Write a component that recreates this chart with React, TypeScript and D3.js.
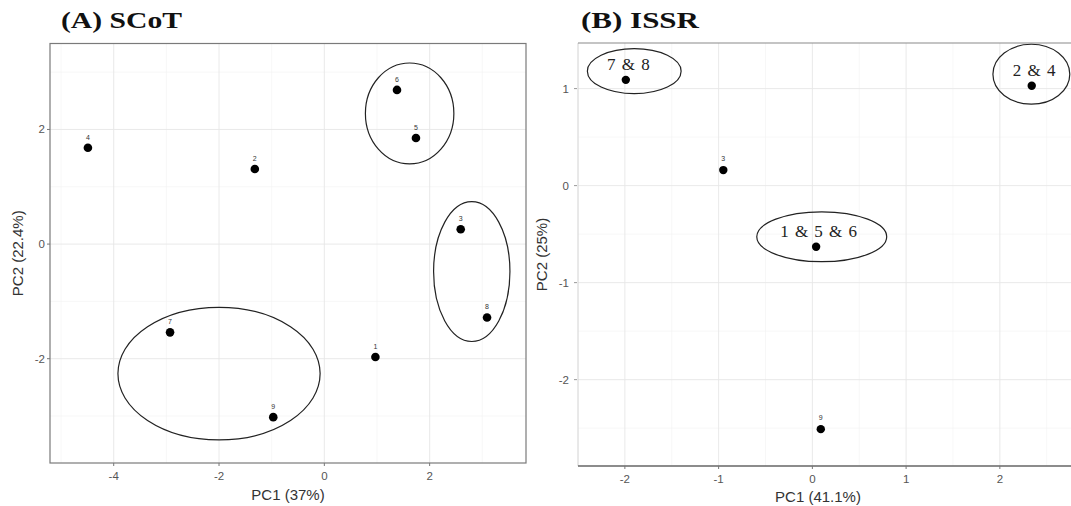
import React from 'react';
import * as d3 from 'd3';

// ---- SCoT data ----
const scotLabels = ['1', '2', '3', '4', '5', '6', '7', '8', '9'];
const scotPC1 = [0.97, -1.32, 2.59, -4.49, 1.74, 1.38, -2.93, 3.09, -0.97];
const scotPC2 = [-1.97, 1.31, 0.26, 1.68, 1.85, 2.69, -1.54, -1.28, -3.02];
const scotEllCx = [1.62, 2.8, -2.0];
const scotEllCy = [2.28, -0.48, -2.26];
const scotEllRx = [0.84, 0.725, 1.92];
const scotEllRy = [0.88, 1.22, 1.157];
const scotXTicks = [-4, -2, 0, 2];
const scotXMinor = [-5, -3, -1, 1, 3];
const scotYTicks = [-2, 0, 2];
const scotYMinor = [-3, -1, 1, 3];

// ---- ISSR data ----
const issrLabels = ['7 & 8', '2 & 4', '3', '1 & 5 & 6', '9'];
const issrGroup = [true, true, false, true, false];
const issrPC1 = [-1.99, 2.34, -0.95, 0.04, 0.09];
const issrPC2 = [1.09, 1.03, 0.16, -0.63, -2.51];
const issrEllCx = [-1.9, 2.336, 0.1];
const issrEllCy = [1.18, 1.148, -0.527];
const issrEllRx = [0.5, 0.41, 0.693];
const issrEllRy = [0.232, 0.309, 0.257];
const issrXTicks = [-2, -1, 0, 1, 2];
const issrXMinor = [-2.5, -1.5, -0.5, 0.5, 1.5, 2.5];
const issrYTicks = [-2, -1, 0, 1];
const issrYMinor = [-2.5, -1.5, -0.5, 0.5];

const sans = "'Liberation Sans', Arial, sans-serif";
const serif = "'Liberation Serif', 'Times New Roman', serif";
const tickCol = '#555';
const majorGrid = '#e6e6e6';
const minorGrid = '#f1f1f1';

export default function App() {
  // SCoT scales
  const sx = d3.scaleLinear().domain([-5.21, 3.83]).range([50, 526]);
  const sy = d3.scaleLinear().domain([-3.82, 3.5]).range([463, 43.5]);
  // ISSR scales
  const ix = d3.scaleLinear().domain([-2.5, 3.0]).range([578, 1093.6]);
  const iy = d3.scaleLinear().domain([-2.89, 1.47]).range([466, 43]);

  const [sx0, sx1] = sx.range();
  const [sy0, sy1] = sy.range();
  const [ix0, ix1] = ix.range();
  const [iy0, iy1] = iy.range();

  return (
    <svg width={1071} height={506} style={{ position: 'absolute', left: 0, top: 0, background: '#fff' }}>
      <rect x={0} y={0} width={1071} height={506} fill="#fff" />

      {/* ======== Panel A: SCoT ======== */}
      <text x={61} y={28} fontFamily={serif} fontWeight="bold" fontSize={23} textLength={121} lengthAdjust="spacingAndGlyphs" fill="#111">(A) SCoT</text>
      <g>
        {scotXMinor.map((v) => (
          <line key={'sxm' + v} x1={sx(v)} x2={sx(v)} y1={sy1} y2={sy0} stroke={minorGrid} strokeWidth={0.6} />
        ))}
        {scotYMinor.map((v) => (
          <line key={'sym' + v} x1={sx0} x2={sx1} y1={sy(v)} y2={sy(v)} stroke={minorGrid} strokeWidth={0.6} />
        ))}
        {scotXTicks.map((v) => (
          <line key={'sxg' + v} x1={sx(v)} x2={sx(v)} y1={sy1} y2={sy0} stroke={majorGrid} strokeWidth={0.9} />
        ))}
        {scotYTicks.map((v) => (
          <line key={'syg' + v} x1={sx0} x2={sx1} y1={sy(v)} y2={sy(v)} stroke={majorGrid} strokeWidth={0.9} />
        ))}
        <rect x={sx0} y={sy1} width={sx1 - sx0} height={sy0 - sy1} fill="none" stroke="#7a7a7a" strokeWidth={1.2} />
        {scotXTicks.map((v) => (
          <g key={'sxt' + v}>
            <line x1={sx(v)} x2={sx(v)} y1={sy0} y2={sy0 + 3} stroke="#777" />
            <text x={sx(v)} y={sy0 + 17} textAnchor="middle" fontFamily={sans} fontSize={11.5} fill={tickCol}>{v}</text>
          </g>
        ))}
        {scotYTicks.map((v) => (
          <g key={'syt' + v}>
            <line x1={sx0 - 3} x2={sx0} y1={sy(v)} y2={sy(v)} stroke="#777" />
            <text x={sx0 - 5} y={sy(v) + 4} textAnchor="end" fontFamily={sans} fontSize={11.5} fill={tickCol}>{v}</text>
          </g>
        ))}
        <text x={(sx0 + sx1) / 2} y={500} textAnchor="middle" fontFamily={sans} fontSize={15} fill="#333">PC1 (37%)</text>
        <text transform={`translate(23,${(sy0 + sy1) / 2}) rotate(-90)`} textAnchor="middle" fontFamily={sans} fontSize={15} fill="#333">PC2 (22.4%)</text>

        {scotEllCx.map((c, i) => (
          <ellipse key={'se' + i} cx={sx(c)} cy={sy(scotEllCy[i])}
            rx={sx(c + scotEllRx[i]) - sx(c)} ry={sy(scotEllCy[i] - scotEllRy[i]) - sy(scotEllCy[i])}
            fill="none" stroke="#222" strokeWidth={1.2} />
        ))}
        {scotLabels.map((l, i) => (
          <g key={'sp' + l}>
            <circle cx={sx(scotPC1[i])} cy={sy(scotPC2[i])} r={4.3} fill="#000" />
            <text x={sx(scotPC1[i])} y={sy(scotPC2[i]) - 8} textAnchor="middle" fontFamily={sans} fontSize={7} fill="#333">{l}</text>
          </g>
        ))}
      </g>

      {/* ======== Panel B: ISSR ======== */}
      <text x={581} y={28} fontFamily={serif} fontWeight="bold" fontSize={23} textLength={118} lengthAdjust="spacingAndGlyphs" fill="#111">(B) ISSR</text>
      <g>
        {issrXMinor.map((v) => (
          <line key={'ixm' + v} x1={ix(v)} x2={ix(v)} y1={iy1} y2={iy0} stroke={minorGrid} strokeWidth={0.6} />
        ))}
        {issrYMinor.map((v) => (
          <line key={'iym' + v} x1={ix0} x2={ix1} y1={iy(v)} y2={iy(v)} stroke={minorGrid} strokeWidth={0.6} />
        ))}
        {issrXTicks.map((v) => (
          <line key={'ixg' + v} x1={ix(v)} x2={ix(v)} y1={iy1} y2={iy0} stroke={majorGrid} strokeWidth={0.9} />
        ))}
        {issrYTicks.map((v) => (
          <line key={'iyg' + v} x1={ix0} x2={ix1} y1={iy(v)} y2={iy(v)} stroke={majorGrid} strokeWidth={0.9} />
        ))}
        <line x1={ix0} x2={ix0} y1={iy1} y2={iy0} stroke="#d6d6d6" strokeWidth={1} />
        <line x1={ix0} x2={ix1} y1={iy1} y2={iy1} stroke="#8a8a8a" strokeWidth={1.2} />
        <line x1={ix0} x2={ix1} y1={iy0} y2={iy0} stroke="#666" strokeWidth={1.4} />
        {issrXTicks.map((v) => (
          <g key={'ixt' + v}>
            <line x1={ix(v)} x2={ix(v)} y1={iy0} y2={iy0 + 3} stroke="#777" />
            <text x={ix(v)} y={iy0 + 17} textAnchor="middle" fontFamily={sans} fontSize={11.5} fill={tickCol}>{v}</text>
          </g>
        ))}
        {issrYTicks.map((v) => (
          <g key={'iyt' + v}>
            <line x1={ix0 - 4} x2={ix0 - 1} y1={iy(v)} y2={iy(v)} stroke="#999" />
            <text x={ix0 - 9} y={iy(v) + 4} textAnchor="end" fontFamily={sans} fontSize={11.5} fill={tickCol}>{v}</text>
          </g>
        ))}
        <text x={818} y={502} textAnchor="middle" fontFamily={sans} fontSize={15} fill="#333">PC1 (41.1%)</text>
        <text transform={`translate(547,${(iy0 + iy1) / 2}) rotate(-90)`} textAnchor="middle" fontFamily={sans} fontSize={15} fill="#333">PC2 (25%)</text>

        {issrEllCx.map((c, i) => (
          <ellipse key={'ie' + i} cx={ix(c)} cy={iy(issrEllCy[i])}
            rx={ix(c + issrEllRx[i]) - ix(c)} ry={iy(issrEllCy[i] - issrEllRy[i]) - iy(issrEllCy[i])}
            fill="none" stroke="#222" strokeWidth={1.2} />
        ))}
        {issrLabels.map((l, i) => (
          <g key={'ip' + i}>
            <circle cx={ix(issrPC1[i])} cy={iy(issrPC2[i])} r={4.2} fill="#000" />
            {issrGroup[i] ? (
              <text x={ix(issrPC1[i]) + 3} y={iy(issrPC2[i]) - 10} textAnchor="middle" fontFamily={serif} fontSize={17} letterSpacing={1} fill="#222">{l}</text>
            ) : (
              <text x={ix(issrPC1[i])} y={iy(issrPC2[i]) - 9} textAnchor="middle" fontFamily={sans} fontSize={7} fill="#333">{l}</text>
            )}
          </g>
        ))}
      </g>
    </svg>
  );
}
